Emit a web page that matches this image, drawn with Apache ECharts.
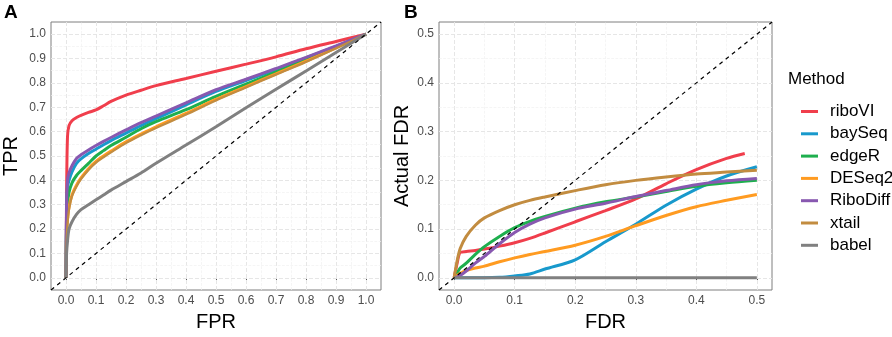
<!doctype html>
<html>
<head>
    <meta charset="utf-8">
    <title>ROC / FDR</title>
    <script src="https://cdn.jsdelivr.net/npm/echarts@6/dist/echarts.min.js"></script>
    <style>
        html, body { margin: 0; padding: 0; background: #fff; }
        #main { width: 892px; height: 337px; }
    </style>
</head>
<body>
<div id="main"></div>
<script type="text/javascript">
    // method names + colours
    var methods = ['riboVI', 'baySeq', 'edgeR', 'DESeq2', 'RiboDiff', 'xtail', 'babel'];
    var colors = ['#F03E4C', '#1899CC', '#1EAF4E', '#FF9B21', '#8858B0', '#C28C40', '#808080'];

    // panel A : ROC (FPR -> TPR)
    var fprA = [0, 0.002, 0.005, 0.01, 0.02, 0.035, 0.05, 0.075, 0.1, 0.125, 0.15, 0.2, 0.25, 0.3, 0.4, 0.5, 0.6, 0.7, 0.8, 0.9, 1];
    var tprRiboVI   = [0, 0.35, 0.58, 0.625, 0.645, 0.658, 0.667, 0.679, 0.689, 0.706, 0.724, 0.75, 0.77, 0.789, 0.818, 0.848, 0.877, 0.907, 0.94, 0.97, 1];
    var tprBaySeq   = [0, 0.28, 0.37, 0.4, 0.435, 0.47, 0.488, 0.51, 0.528, 0.546, 0.563, 0.594, 0.625, 0.653, 0.71, 0.765, 0.81, 0.855, 0.903, 0.95, 1];
    var tprEdgeR    = [0, 0.22, 0.3, 0.35, 0.39, 0.42, 0.44, 0.47, 0.5, 0.522, 0.543, 0.577, 0.612, 0.641, 0.69, 0.745, 0.795, 0.845, 0.895, 0.947, 1];
    var tprDESeq2   = [0, 0.18, 0.24, 0.29, 0.34, 0.38, 0.41, 0.448, 0.478, 0.5, 0.52, 0.558, 0.59, 0.62, 0.675, 0.732, 0.785, 0.837, 0.889, 0.944, 1];
    var tprRiboDiff = [0, 0.3, 0.4, 0.43, 0.46, 0.49, 0.505, 0.525, 0.543, 0.56, 0.576, 0.607, 0.637, 0.664, 0.718, 0.772, 0.815, 0.859, 0.905, 0.952, 1];
    var tprXtail    = [0, 0.16, 0.22, 0.28, 0.335, 0.375, 0.405, 0.443, 0.473, 0.495, 0.515, 0.553, 0.585, 0.615, 0.67, 0.728, 0.781, 0.834, 0.886, 0.942, 1];
    var tprBabel    = [0, 0.1, 0.15, 0.2, 0.23, 0.26, 0.28, 0.3, 0.32, 0.34, 0.36, 0.395, 0.43, 0.47, 0.545, 0.62, 0.698, 0.774, 0.849, 0.925, 1];

    // panel B : nominal FDR -> actual FDR
    var fdrB      = [0, 0.005, 0.01, 0.02, 0.035, 0.05, 0.075, 0.1, 0.125, 0.15, 0.2, 0.25, 0.3, 0.35, 0.4, 0.45, 0.5];
    var fdrBRibo  = [0, 0.005, 0.01, 0.02, 0.035, 0.05, 0.075, 0.1, 0.125, 0.15, 0.2, 0.25, 0.3, 0.35, 0.4, 0.45, 0.48];
    var actRiboVI   = [0, 0.03, 0.052, 0.054, 0.056, 0.059, 0.065, 0.072, 0.081, 0.092, 0.115, 0.138, 0.162, 0.193, 0.222, 0.245, 0.255];
    var actBaySeq   = [0, 0, 0, 0, 0, 0, 0.001, 0.004, 0.008, 0.018, 0.037, 0.074, 0.11, 0.149, 0.182, 0.209, 0.228];
    var actEdgeR    = [0, 0.01, 0.02, 0.03, 0.048, 0.064, 0.085, 0.103, 0.116, 0.126, 0.143, 0.156, 0.166, 0.177, 0.188, 0.195, 0.2];
    var actDESeq2   = [0, 0.005, 0.009, 0.015, 0.02, 0.024, 0.033, 0.041, 0.048, 0.054, 0.067, 0.085, 0.107, 0.128, 0.146, 0.159, 0.171];
    var actRiboDiff = [0, 0.002, 0.005, 0.014, 0.03, 0.044, 0.07, 0.093, 0.11, 0.123, 0.141, 0.153, 0.167, 0.179, 0.191, 0.199, 0.204];
    var actXtail    = [0, 0.035, 0.06, 0.085, 0.108, 0.123, 0.138, 0.15, 0.159, 0.166, 0.179, 0.191, 0.2, 0.207, 0.213, 0.217, 0.221];
    var actBabel    = [0, 0, 0, 0, 0, 0, 0, 0, 0, 0, 0, 0, 0, 0, 0, 0, 0];

    // ticks (major) and minor grid lines
    var ticksA = [0, 0.1, 0.2, 0.3, 0.4, 0.5, 0.6, 0.7, 0.8, 0.9, 1.0];
    var minorA = [0.05, 0.15, 0.25, 0.35, 0.45, 0.55, 0.65, 0.75, 0.85, 0.95];
    var ticksB = [0, 0.1, 0.2, 0.3, 0.4, 0.5];
    var minorB = [0.05, 0.15, 0.25, 0.35, 0.45];
    var limA = [-0.05, 1.05];
    var limB = [-0.025, 0.525];

    var FONT = '"Liberation Sans", Arial, Helvetica, sans-serif';

    function pair(xs, ys) {
        return xs.map(function (x, i) { return [x, ys[i]]; });
    }

    function gridLines(major, minor) {
        var d = [];
        major.forEach(function (v) {
            d.push({ xAxis: v, lineStyle: { color: '#e6e6e6', width: 1 } });
            d.push({ yAxis: v, lineStyle: { color: '#e6e6e6', width: 1 } });
        });
        minor.forEach(function (v) {
            d.push({ xAxis: v, lineStyle: { color: '#f0f0f0', width: 0.7 } });
            d.push({ yAxis: v, lineStyle: { color: '#f0f0f0', width: 0.7 } });
        });
        return d;
    }

    function valueAxis(idx, lim, ticks, name, gap) {
        return {
            type: 'value',
            gridIndex: idx,
            min: lim[0],
            max: lim[1],
            name: name,
            nameLocation: 'middle',
            nameGap: gap,
            nameTextStyle: { fontFamily: FONT, fontSize: 20, color: '#000' },
            axisLine: { show: false },
            splitLine: { show: false },
            axisTick: { show: true, length: 3, customValues: ticks, lineStyle: { color: '#555' } },
            axisLabel: {
                customValues: ticks, margin: 5, fontFamily: FONT, fontSize: 12, color: '#4d4d4d',
                formatter: function (v) { return v.toFixed(1); }
            }
        };
    }

    var seriesA = [tprRiboVI, tprBaySeq, tprEdgeR, tprDESeq2, tprRiboDiff, tprXtail, tprBabel];
    var seriesB = [actRiboVI, actBaySeq, actEdgeR, actDESeq2, actRiboDiff, actXtail, actBabel];

    var series = [];
    // background grids (markLine z kept below the curves)
    series.push({ type: 'line', xAxisIndex: 0, yAxisIndex: 0, data: [], silent: true, z: 1,
        markLine: { z: 1, silent: true, symbol: ['none', 'none'], label: { show: false }, animation: false, data: gridLines(ticksA, minorA) } });
    series.push({ type: 'line', xAxisIndex: 1, yAxisIndex: 1, data: [], silent: true, z: 1,
        markLine: { z: 1, silent: true, symbol: ['none', 'none'], label: { show: false }, animation: false, data: gridLines(ticksB, minorB) } });

    methods.forEach(function (m, i) {
        series.push({
            name: m, type: 'line', xAxisIndex: 0, yAxisIndex: 0, z: 3,
            data: pair(fprA, seriesA[i]), showSymbol: false, smooth: 0.3,
            lineStyle: { color: colors[i], width: m === 'xtail' ? 2.2 : 3 }, itemStyle: { color: colors[i] }
        });
    });
    methods.forEach(function (m, i) {
        series.push({
            name: m, type: 'line', xAxisIndex: 1, yAxisIndex: 1, z: 3,
            data: pair(m === 'riboVI' ? fdrBRibo : fdrB, seriesB[i]), showSymbol: false, smooth: 0.3,
            lineStyle: { color: colors[i], width: 3 }, itemStyle: { color: colors[i] }
        });
    });
    // y = x reference lines
    series.push({ type: 'line', xAxisIndex: 0, yAxisIndex: 0, z: 4, silent: true, showSymbol: false,
        data: [[limA[0], limA[0]], [limA[1], limA[1]]], lineStyle: { color: '#000', width: 1.2, type: [4, 4] } });
    series.push({ type: 'line', xAxisIndex: 1, yAxisIndex: 1, z: 4, silent: true, showSymbol: false,
        data: [[limB[0], limB[0]], [limB[1], limB[1]]], lineStyle: { color: '#000', width: 1.2, type: [4, 4] } });

    var myChart = echarts.init(document.getElementById('main'));
    var option = {
        animation: false,
        backgroundColor: '#fff',
        textStyle: { fontFamily: FONT },
        grid: [
            { left: 48, top: 22, width: 333, height: 278, show: true, borderColor: '#7f7f7f', borderWidth: 1 },
            { left: 439, top: 22, width: 333, height: 278, show: true, borderColor: '#7f7f7f', borderWidth: 1 }
        ],
        xAxis: [
            valueAxis(0, limA, ticksA, 'FPR', 22),
            valueAxis(1, limB, ticksB, 'FDR', 22)
        ],
        yAxis: [
            valueAxis(0, limA, ticksA, 'TPR', 30),
            valueAxis(1, limB, ticksB, 'Actual FDR', 27)
        ],
        legend: {
            orient: 'vertical',
            left: 796,
            top: 98,
            itemWidth: 17,
            itemHeight: 3,
            itemGap: 5.3,
            icon: 'rect',
            data: methods,
            selectedMode: false,
            formatter: function (name) { return '{t|' + name + '}'; },
            textStyle: {
                fontFamily: FONT, fontSize: 17, color: '#000', lineHeight: 17,
                rich: { t: { fontFamily: FONT, fontSize: 17, color: '#000', lineHeight: 17, padding: [0, 0, 0, 7] } }
            }
        },
        graphic: [
            { type: 'text', left: 4, top: 3, style: { text: 'A', font: 'bold 19px ' + FONT, fill: '#000' } },
            { type: 'text', left: 404, top: 3, style: { text: 'B', font: 'bold 19px ' + FONT, fill: '#000' } },
            { type: 'text', left: 788, top: 71, style: { text: 'Method', font: '17px ' + FONT, fill: '#000' } }
        ],
        series: series
    };
    myChart.setOption(option);
</script>
</body>
</html>
